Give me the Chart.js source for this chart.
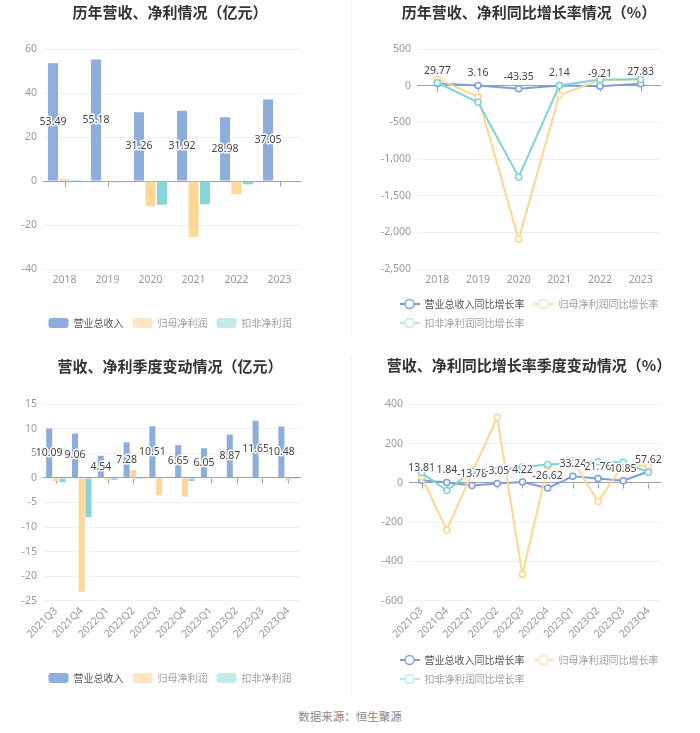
<!DOCTYPE html>
<html><head><meta charset="utf-8">
<script src="https://cdn.jsdelivr.net/npm/chart.js@4.4.0/dist/chart.umd.min.js"></script>
<style>
html,body{margin:0;padding:0;background:#fff;}
body{width:700px;height:733px;position:relative;overflow:hidden;font-family:"Noto Sans","Noto Sans CJK SC",sans-serif;}
canvas{position:absolute;display:block;}
.sep{position:absolute;left:351px;width:1px;background:#f1f1f1;}
#src{position:absolute;left:0;width:700px;top:707px;text-align:center;font-size:11.5px;color:#888;line-height:18px;font-family:"Noto Sans CJK SC",sans-serif;}
</style></head><body>
<div class="sep" style="top:0;height:335px"></div>
<div class="sep" style="top:355px;height:340px"></div>
<canvas id="c1" width="340" height="345" style="left:0;top:0"></canvas>
<canvas id="c2" width="342" height="345" style="left:358px;top:0"></canvas>
<canvas id="c3" width="340" height="345" style="left:0;top:350px"></canvas>
<canvas id="c4" width="342" height="345" style="left:358px;top:350px"></canvas>
<div id="src">数据来源：恒生聚源</div>
<script>
// ---------- data ----------
const years = ['2018','2019','2020','2021','2022','2023'];
const yearRevenue = [53.49, 55.18, 31.26, 31.92, 28.98, 37.05];
const yearNetProfit = [0.9, -0.3, -11.5, -25.4, -6.0, -0.2];
const yearDeductedProfit = [0.5, -0.6, -10.8, -10.6, -1.5, -0.3];

const yearRevenueGrowth = [29.77, 3.16, -43.35, 2.14, -9.21, 27.83];
const yearNetProfitGrowth = [92, -150, -2095, -127, 75, 88];
const yearDeductedGrowth = [41, -227, -1245, 3, 85, 88];

const quarters = ['2021Q3','2021Q4','2022Q1','2022Q2','2022Q3','2022Q4','2023Q1','2023Q2','2023Q3','2023Q4'];
const qRevenue = [10.09, 9.06, 4.54, 7.28, 10.51, 6.65, 6.05, 8.87, 11.65, 10.48];
const qNetProfit = [-0.6, -23.2, -0.4, 1.6, -3.5, -3.8, 0.05, -0.15, 0.05, -0.5];
const qDeductedProfit = [-0.9, -8.0, -0.4, -0.2, -0.1, -0.6, 0.05, 0.05, 0.05, -0.2];

const qRevenueGrowth = [13.81, 1.84, -13.78, -3.05, 4.22, -26.62, 33.24, 21.76, 10.85, 57.62];
const qNetProfitGrowth = [30, -241, 50, 334, -467, 84, 113, -96, 93, 86];
const qDeductedGrowth = [51, -39, 59, 64, 81, 93, 101, 108, 105, 54];

const barNames = ['营业总收入', '归母净利润', '扣非净利润'];
const lineNames = ['营业总收入同比增长率', '归母净利润同比增长率', '扣非净利润同比增长率'];

// ---------- styles ----------
const FONT = '"Noto Sans","Noto Sans CJK SC",sans-serif';
const BAR_COLORS = ['#8daddc', '#ffd899', '#86d5d8'];
const BAR_LEGEND = ['#8daddc', '#ffe5c2', '#c2ebeb'];
const LINE_COLORS = ['#7b9fda', '#ffd592', '#7dd5d5'];
const LINE_LEGEND = ['#7b9fda', '#ffe2b5', '#b8e8e8'];
const LEGEND_TEXT = ['#555', '#a0a0a0', '#a0a0a0'];

function icon(color){
  const c = document.createElement('canvas'); c.width = 20; c.height = 12;
  const g = c.getContext('2d');
  g.strokeStyle = color; g.lineWidth = 2;
  g.beginPath(); g.moveTo(0, 6); g.lineTo(20, 6); g.stroke();
  g.beginPath(); g.arc(10, 6, 4.5, 0, Math.PI * 2); g.fillStyle = '#fff'; g.fill();
  g.lineWidth = 1.5; g.stroke();
  return c;
}
const ICONS = LINE_LEGEND.map(icon);

const valueLabels = {
  id: 'valueLabels',
  afterDatasetsDraw(chart, args, opts){
    const ctx = chart.ctx;
    const meta = chart.getDatasetMeta(0);
    const data = chart.data.datasets[0].data;
    ctx.save();
    ctx.font = '10.5px ' + FONT;
    ctx.textAlign = 'center'; ctx.textBaseline = 'middle';
    ctx.lineWidth = 3; ctx.lineJoin = 'round'; ctx.strokeStyle = '#fff'; ctx.fillStyle = '#444';
    meta.data.forEach((el, i) => {
      const t = data[i].toFixed(2);
      const y = opts.mode === 'bar' ? (el.y + el.base) / 2 : el.y - 12;
      ctx.strokeText(t, el.x, y); ctx.fillText(t, el.x, y);
    });
    ctx.restore();
  }
};

const zeroTicks = {
  id: 'zeroTicks',
  beforeDatasetsDraw(chart){
    const xs = chart.scales.x, ys = chart.scales.y;
    const y0 = Math.round(ys.getPixelForValue(0)) + 0.5;
    const ctx = chart.ctx;
    ctx.save(); ctx.strokeStyle = '#a0a0a0'; ctx.lineWidth = 1; ctx.beginPath();
    for (let i = 0; i < xs.ticks.length; i++){
      const px = Math.round(xs.getPixelForTick(i)) + 0.5;
      ctx.moveTo(px, y0); ctx.lineTo(px, y0 + 5);
    }
    ctx.stroke(); ctx.restore();
  }
};

const legendAlign = {
  id: 'legendAlign',
  afterLayout(chart){
    const lg = chart.legend;
    if (lg && lg.lineWidths && lg.lineWidths.length > 1){
      for (let i = 1; i < lg.lineWidths.length; i++) lg.lineWidths[i] = lg.lineWidths[0];
    }
  }
};

function makeChart(id, cfg){
  const isBar = cfg.type === 'bar';
  const datasets = cfg.series.map((d, i) => isBar ? {
    label: barNames[i], data: d, backgroundColor: BAR_COLORS[i],
    categoryPercentage: cfg.cp, barPercentage: cfg.bp
  } : {
    label: lineNames[i], data: d, borderColor: LINE_COLORS[i], backgroundColor: '#fff',
    borderWidth: 2, pointRadius: 3, pointHoverRadius: 3, pointBorderWidth: 1.5,
    pointBackgroundColor: '#fff', pointBorderColor: LINE_COLORS[i], tension: 0, order: 2 - i
  });
  return new Chart(document.getElementById(id), {
    type: cfg.type,
    data: { labels: cfg.labels, datasets },
    plugins: [valueLabels, zeroTicks, legendAlign],
    options: {
      responsive: false, animation: false,
      layout: { padding: { left: 0, right: 0, top: 0, bottom: cfg.padB } },
      plugins: {
        valueLabels: { mode: isBar ? 'bar' : 'line' },
        tooltip: { enabled: false },
        title: { display: true, text: cfg.title, color: '#333',
          font: { size: 15, weight: 'bold', family: '"Noto Sans CJK SC",sans-serif' },
          padding: { top: cfg.tTop, bottom: cfg.tBot } },
        legend: {
          position: 'bottom',
          labels: {
            font: { size: 10, family: '"Noto Sans CJK SC",sans-serif' },
            padding: 9, boxWidth: 20, boxHeight: 10,
            usePointStyle: !isBar, pointStyleWidth: isBar ? undefined : 20,
            useBorderRadius: isBar, borderRadius: 3,
            generateLabels(chart){
              return chart.data.datasets.map((ds, i) => ({
                text: ds.label, datasetIndex: i, hidden: false,
                fillStyle: isBar ? BAR_LEGEND[i] : '#fff',
                strokeStyle: isBar ? BAR_LEGEND[i] : LINE_LEGEND[i],
                lineWidth: 0, fontColor: LEGEND_TEXT[i],
                pointStyle: isBar ? undefined : ICONS[i], borderRadius: 3
              }));
            }
          }
        }
      },
      scales: {
        x: {
          offset: true,
          grid: { display: false, drawTicks: false },
          border: { display: false },
          ticks: { color: '#999', font: { size: 10.5, family: FONT }, padding: cfg.xPad,
            autoSkip: false, minRotation: cfg.rot, maxRotation: cfg.rot },
          afterFit: s => { s.height = cfg.xH; }
        },
        y: {
          min: cfg.min, max: cfg.max,
          grid: { drawTicks: false,
            color: c => (c.tick && c.tick.value === 0) ? '#a0a0a0' : '#eef0f6' },
          border: { display: false },
          ticks: { stepSize: cfg.step, color: '#999', font: { size: 10.5, family: FONT }, padding: 6 },
          afterFit: s => { s.width = cfg.yW; }
        },
        spacer: {
          type: 'linear', position: 'right', display: true,
          grid: { display: false, drawTicks: false },
          border: { display: false },
          ticks: { display: false },
          afterFit: s => { s.width = 39; }
        }
      }
    }
  });
}

makeChart('c1', { type: 'bar', title: '历年营收、净利情况（亿元）', labels: years,
  series: [yearRevenue, yearNetProfit, yearDeductedProfit], cp: 0.8, bp: 0.87,
  min: -40, max: 60, step: 20, yW: 43, xH: 40, xPad: 5, rot: 0, padB: 7, tTop: 3, tBot: 28 });

makeChart('c2', { type: 'line', title: '历年营收、净利同比增长率情况（%）', labels: years,
  series: [yearRevenueGrowth, yearNetProfitGrowth, yearDeductedGrowth],
  min: -2500, max: 500, step: 500, yW: 59, xH: 21, xPad: 5, rot: 0, padB: 7, tTop: 3, tBot: 28 });

makeChart('c3', { type: 'bar', title: '营收、净利季度变动情况（亿元）', labels: quarters,
  series: [qRevenue, qNetProfit, qDeductedProfit], cp: 0.78, bp: 0.9,
  min: -25, max: 15, step: 5, yW: 43, xH: 63.3, xPad: 4, rot: 45, padB: 2, tTop: 7, tBot: 29.3 });

makeChart('c4', { type: 'line', title: '营收、净利同比增长率季度变动情况（%）', labels: quarters,
  series: [qRevenueGrowth, qNetProfitGrowth, qDeductedGrowth],
  min: -600, max: 400, step: 200, yW: 51, xH: 45.3, xPad: 4, rot: 45, padB: 1, tTop: 6, tBot: 30.3 });
</script>
</body></html>
